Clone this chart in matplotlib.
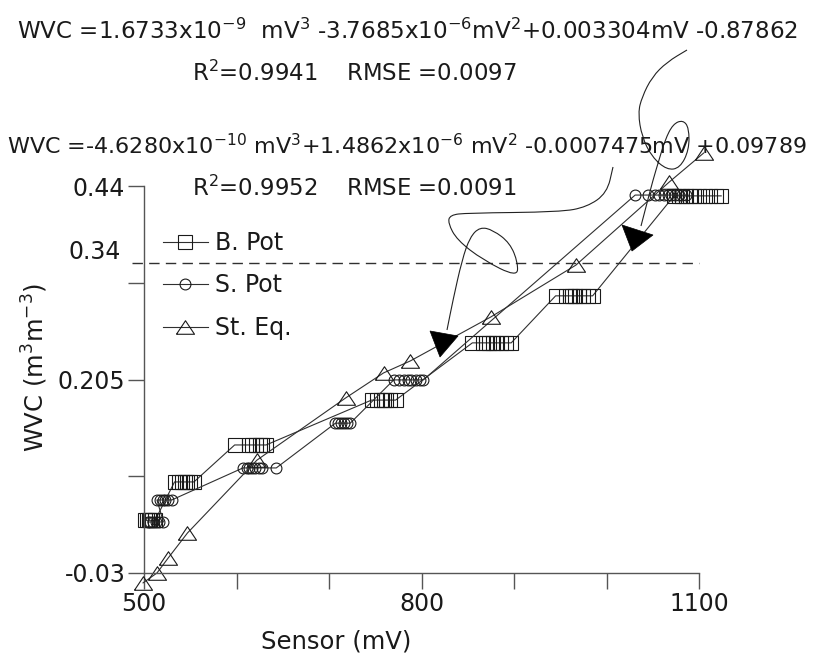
import numpy as np
import matplotlib.pyplot as plt
from matplotlib.path import Path
from matplotlib.patches import PathPatch, Polygon
from matplotlib.transforms import Affine2D

# WVC level of each cluster and the sensor readings (mV) taken at that level
bpot_wvc = [0.034, 0.0806, 0.1255, 0.180, 0.2495, 0.3066, 0.428]
bpot_mv = [
    [501, 503, 505, 507, 509, 512],
    [533, 538, 541, 544, 547, 550, 554],
    [598, 613, 617, 621, 625, 628, 632],
    [746, 752, 756, 759, 762, 766, 772],
    [855, 866, 870, 873, 877, 881, 886, 891, 897],
    [945, 956, 960, 963, 966, 970, 975, 980, 985],
    [1073, 1078, 1082, 1086, 1090, 1095, 1100, 1106, 1112, 1118, 1124],
]
spot_wvc = [0.032, 0.0587, 0.0976, 0.152, 0.2045, 0.429]
spot_mv = [
    [504, 507, 510, 513, 516, 521],
    [514, 517, 520, 523, 526, 530],
    [607, 611, 614, 617, 620, 624, 628, 643],
    [707, 710, 713, 716, 719, 723],
    [770, 776, 781, 785, 789, 794, 798, 802],
    [1031, 1045, 1052, 1057, 1062, 1066, 1070, 1074, 1078, 1082, 1086],
]
steq_mv = [499, 514, 526, 547, 622, 718, 759, 788, 875, 967, 1068, 1105]
steq_wvc = [-0.042, -0.030, -0.012, 0.0186, 0.107, 0.1826, 0.213, 0.2276,
            0.281, 0.344, 0.445, 0.480]

x_ticks = [500, 600, 700, 800, 900, 1000, 1100]
x_labels = ['500', '', '', '800', '', '', '1100']
y_ticks = [-0.03, 0.0875, 0.205, 0.3225, 0.44]
y_labels = ['-0.03', '', '0.205', '', '0.44']
fc_line = 0.347
fc_label = '0.34'

eq1 = 'WVC =1.6733x10$^{-9}$  mV$^3$ -3.7685x10$^{-6}$mV$^2$+0.003304mV -0.87862'
stat1 = 'R$^2$=0.9941    RMSE =0.0097'
eq2 = 'WVC =-4.6280x10$^{-10}$ mV$^3$+1.4862x10$^{-6}$ mV$^2$ -0.0007475mV +0.09789'
stat2 = 'R$^2$=0.9952    RMSE =0.0091'

# hand drawn arrows, in image pixels
arrow_a = [(613, 167), (607, 193), (587, 207), (560, 212), (467, 213), (450, 215),
           (448, 223), (457, 240), (483, 260), (517, 277), (518, 263), (510, 243),
           (493, 230), (480, 227), (470, 237), (462, 260), (453, 300), (447, 330)]
head_a = [(430, 331), (458, 336), (440, 357)]
arrow_b = [(687, 50), (667, 62), (652, 77), (642, 97), (638, 113), (642, 137),
           (652, 157), (667, 170), (680, 168), (689, 150), (689, 128), (683, 120),
           (673, 124), (665, 140), (659, 160), (653, 180), (647, 203), (641, 226)]
head_b = [(622, 225), (653, 235), (632, 251)]

W, H = 813, 661
ink = '#1a1a1a'
plt.rcParams['font.family'] = 'DejaVu Sans'
plt.rcParams['mathtext.fontset'] = 'dejavusans'

fig = plt.figure(figsize=(W / 100, H / 100), dpi=100)
ax = fig.add_axes([144 / W, 1 - 573 / H, 555 / W, 387 / H])
ax.set_facecolor('none')

tri = [(-1, -0.75), (1, -0.75), (0, 0.75), (-1, -0.75)]

def flat(levels, readings):
    x = np.concatenate([np.array(r, float) for r in readings])
    y = np.concatenate([np.full(len(r), v) for v, r in zip(levels, readings)])
    return x, y

bx, by = flat(bpot_wvc, bpot_mv)
sx, sy = flat(spot_wvc, spot_mv)
style = dict(color='#303030', lw=0.8, mfc='none', mec='#1a1a1a', mew=0.8, clip_on=False)
ax.plot(bx, by, marker='s', ms=9.4, label='B. Pot', **style)
ax.plot(sx, sy, marker='o', ms=7.8, label='S. Pot', **style)
ax.plot(steq_mv, steq_wvc, marker=tri, ms=13, label='St. Eq.', **style)

ax.axhline(fc_line, xmin=-0.0216, xmax=1, color='#303030', lw=1,
           dashes=(7.5, 4.5), clip_on=False)
ax.annotate(fc_label, xy=(0, fc_line), xycoords=('axes fraction', 'data'),
            xytext=(-16.5, 7.5), textcoords='offset points', ha='right',
            va='center', fontsize=17, color=ink)

ax.set_xlim(500, 1100)
ax.set_ylim(-0.03, 0.44)
ax.set_xticks(x_ticks, x_labels)
ax.set_yticks(y_ticks, y_labels)
for s in ['top', 'right']:
    ax.spines[s].set_visible(False)
for s in ['left', 'bottom']:
    ax.spines[s].set_color('#555555')
    ax.spines[s].set_linewidth(1)
ax.tick_params(direction='out', length=11.5, width=1, color='#555555',
               labelsize=17, labelcolor=ink, pad=2)

leg = ax.legend(loc='upper left', bbox_to_anchor=(163 / W, 1 - 231 / H),
                bbox_transform=fig.transFigure, frameon=False, fontsize=17,
                handlelength=1.9, handletextpad=0.3, labelspacing=0.78,
                borderpad=0, borderaxespad=0, numpoints=1)
for t in leg.get_texts():
    t.set_color(ink)

fig.text(0.043, 1 - 367 / H, 'WVC (m$^3$m$^{-3}$)', rotation=90, ha='center',
         va='center', fontsize=17.5, color=ink)
fig.text(336 / W, 1 - 641 / H, 'Sensor (mV)', ha='center', va='center',
         fontsize=17.5, color=ink)

fig.text(407 / W, 1 - 39 / H, eq1, ha='center', va='baseline', fontsize=16.6, color=ink)
fig.text(192 / W, 1 - 81 / H, stat1, ha='left', va='baseline', fontsize=16.4, color=ink)
fig.text(407 / W, 1 - 154 / H, eq2, ha='center', va='baseline', fontsize=16, color=ink)
fig.text(192 / W, 1 - 196 / H, stat2, ha='left', va='baseline', fontsize=16.4, color=ink)

# pixel coordinates -> figure
px = Affine2D().scale(1 / W, -1 / H).translate(0, 1) + fig.transFigure

def smooth_path(pts):
    pts = np.array(pts, float)
    mids = (pts[:-1] + pts[1:]) / 2
    verts = [pts[0], mids[0]]
    codes = [Path.MOVETO, Path.LINETO]
    for i in range(1, len(pts) - 1):
        verts += [pts[i], mids[i]]
        codes += [Path.CURVE3, Path.CURVE3]
    verts.append(pts[-1])
    codes.append(Path.LINETO)
    return Path(verts, codes)

for stroke, head in [(arrow_a, head_a), (arrow_b, head_b)]:
    fig.patches.append(PathPatch(smooth_path(stroke), transform=px, fill=False,
                                 ec='#222222', lw=0.8))
    fig.patches.append(Polygon(head, closed=True, transform=px, fc='black',
                               ec='black', lw=0.5))

fig.savefig('out.png', dpi=100)
